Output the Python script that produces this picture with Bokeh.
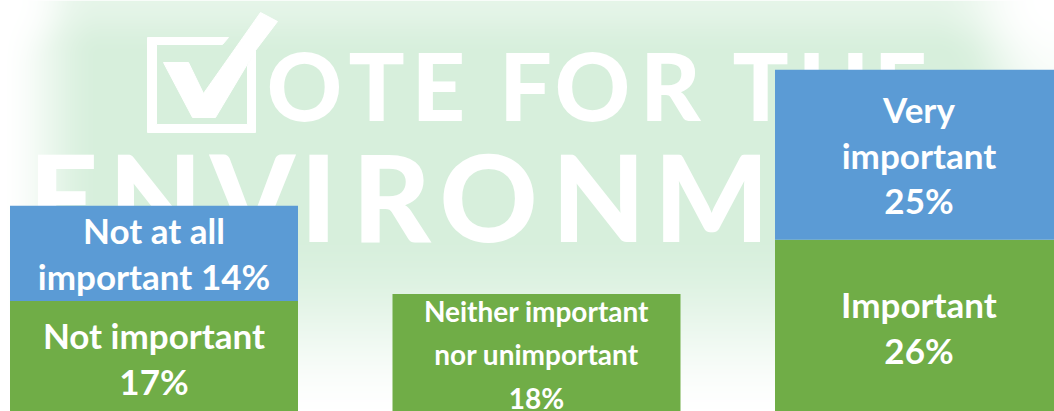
import numpy as np
from bokeh.core.properties import value
from bokeh.embed import file_html
from bokeh.models import Range1d, ColumnDataSource
from bokeh.plotting import figure
from bokeh.resources import INLINE

# ---- data ----
categories = ["Unimportant", "Neutral", "Important"]
lower_values = [17, 18, 26]
upper_values = [14, 0, 25]
lower_labels = ["Not important\n17%", "Neither important\nnor unimportant\n18%", "Important\n26%"]
upper_labels = ["Not at all\nimportant 14%", "", "Very\nimportant\n25%"]
logo_top = list("OTEFORTHE")
logo_bottom = list("ENVIRONM")

GREEN = "#70ad47"
BLUE = "#5b9bd5"
W, H = 1054, 411

p = figure(width=W, height=H, output_backend="svg", toolbar_location=None,
           x_range=Range1d(-153.5 / 382.5, (W - 153.5) / 382.5),
           y_range=Range1d(5 / 6.8, 416 / 6.8),
           min_border=0)
p.axis.visible = False
p.grid.visible = False
p.outline_line_color = None
p.background_fill_color = "white"
p.border_fill_color = "white"
p.extra_x_ranges["px"] = Range1d(0, W)
p.extra_y_ranges["px"] = Range1d(0, H)

# ---- faded backdrop ----
yy, xx = np.mgrid[0:H, 0:W]
yy = yy + 0.5
xx = xx + 0.5
def ss(t):
    t = np.clip(t, 0, 1)
    return t * t * (3 - 2 * t)
a = ss(xx / 100) * (0.3 + 0.7 * ss((W - xx) / 90))
a = a * (0.65 + 0.35 * ss(yy / 55))
a = a * ss((H - yy + 10) / 190)
a = a * ss((np.hypot(W - xx, yy) - 5) / 120) * ss((np.hypot(xx, yy) - 5) / 70)
base = np.array([215, 239, 220])
rgb = 255 + (base - 255) * a[..., None]
img = np.zeros((H, W), dtype=np.uint32)
view = img.view(dtype=np.uint8).reshape((H, W, 4))
view[..., 0] = rgb[..., 0].round()
view[..., 1] = rgb[..., 1].round()
view[..., 2] = rgb[..., 2].round()
view[..., 3] = 255
p.image_rgba(image=[img[::-1]], x=0, y=0, dw=W, dh=H, x_range_name="px", y_range_name="px")

# ---- logo watermark ----
box_outer = [(147, 37), (228, 37), (222, 44), (156, 44), (156, 124), (247, 124), (247, 65), (255, 50), (255, 132), (147, 132)]
tick = [(163, 62), (188, 62), (203, 93), (260, 12), (277, 21), (255, 50), (215, 117), (192, 117)]
for shape in (box_outer, tick):
    p.patch([q[0] for q in shape], [H - q[1] for q in shape], fill_color="white", line_color="white",
            line_width=1, x_range_name="px", y_range_name="px")
top_cx = [304, 376, 438, 525, 592, 670, 760, 833, 900]
bot_cx = [63, 155, 252, 318, 391, 488, 598, 711]
p.text(x=top_cx, y=[H - 84] * 9, text=logo_top, text_font=value("Lato Black"),
       text_font_size="93px", text_color="white", text_baseline="middle", text_align="center",
       x_range_name="px", y_range_name="px")
p.text(x=bot_cx, y=[H - 195] * 8, text=logo_bottom, text_font=value("Lato Black"),
       text_font_size="121px", text_color="white", text_baseline="middle", text_align="center",
       x_range_name="px", y_range_name="px")

# ---- bars ----
xs = list(range(len(categories)))
bottoms = lower_values
tops = [a1 + b1 for a1, b1 in zip(lower_values, upper_values)]
lower_sizes = ["35px", "28px", "35px"]
lower_heights = [1.09, 1.28, 1.09]
src_low = ColumnDataSource(dict(x=xs, top=lower_values, mid=[v / 2 for v in lower_values],
                                label=lower_labels, size=lower_sizes, lh=lower_heights))
src_up = ColumnDataSource(dict(x=xs, bottom=bottoms, top=tops, mid=[(b + t) / 2 for b, t in zip(bottoms, tops)],
                               label=upper_labels))
bw = 288 / 382.5
p.vbar(x="x", width=bw, bottom=0, top="top", source=src_low, fill_color=GREEN, line_color=None)
p.vbar(x="x", width=bw, bottom="bottom", top="top", source=src_up, fill_color=BLUE, line_color=None)
p.text(x="x", y="mid", text="label", source=src_low, text_font=value("Lato"), text_font_style="bold",
       text_font_size="size", text_color="white", text_align="center", text_baseline="middle",
       text_line_height="lh", y_offset=-1)
p.text(x="x", y="mid", text="label", source=src_up, text_font=value("Lato"), text_font_style="bold",
       text_font_size="35px", text_color="white", text_align="center", text_baseline="middle",
       text_line_height=1.09)

open("out.html", "w").write(file_html(p, INLINE))
